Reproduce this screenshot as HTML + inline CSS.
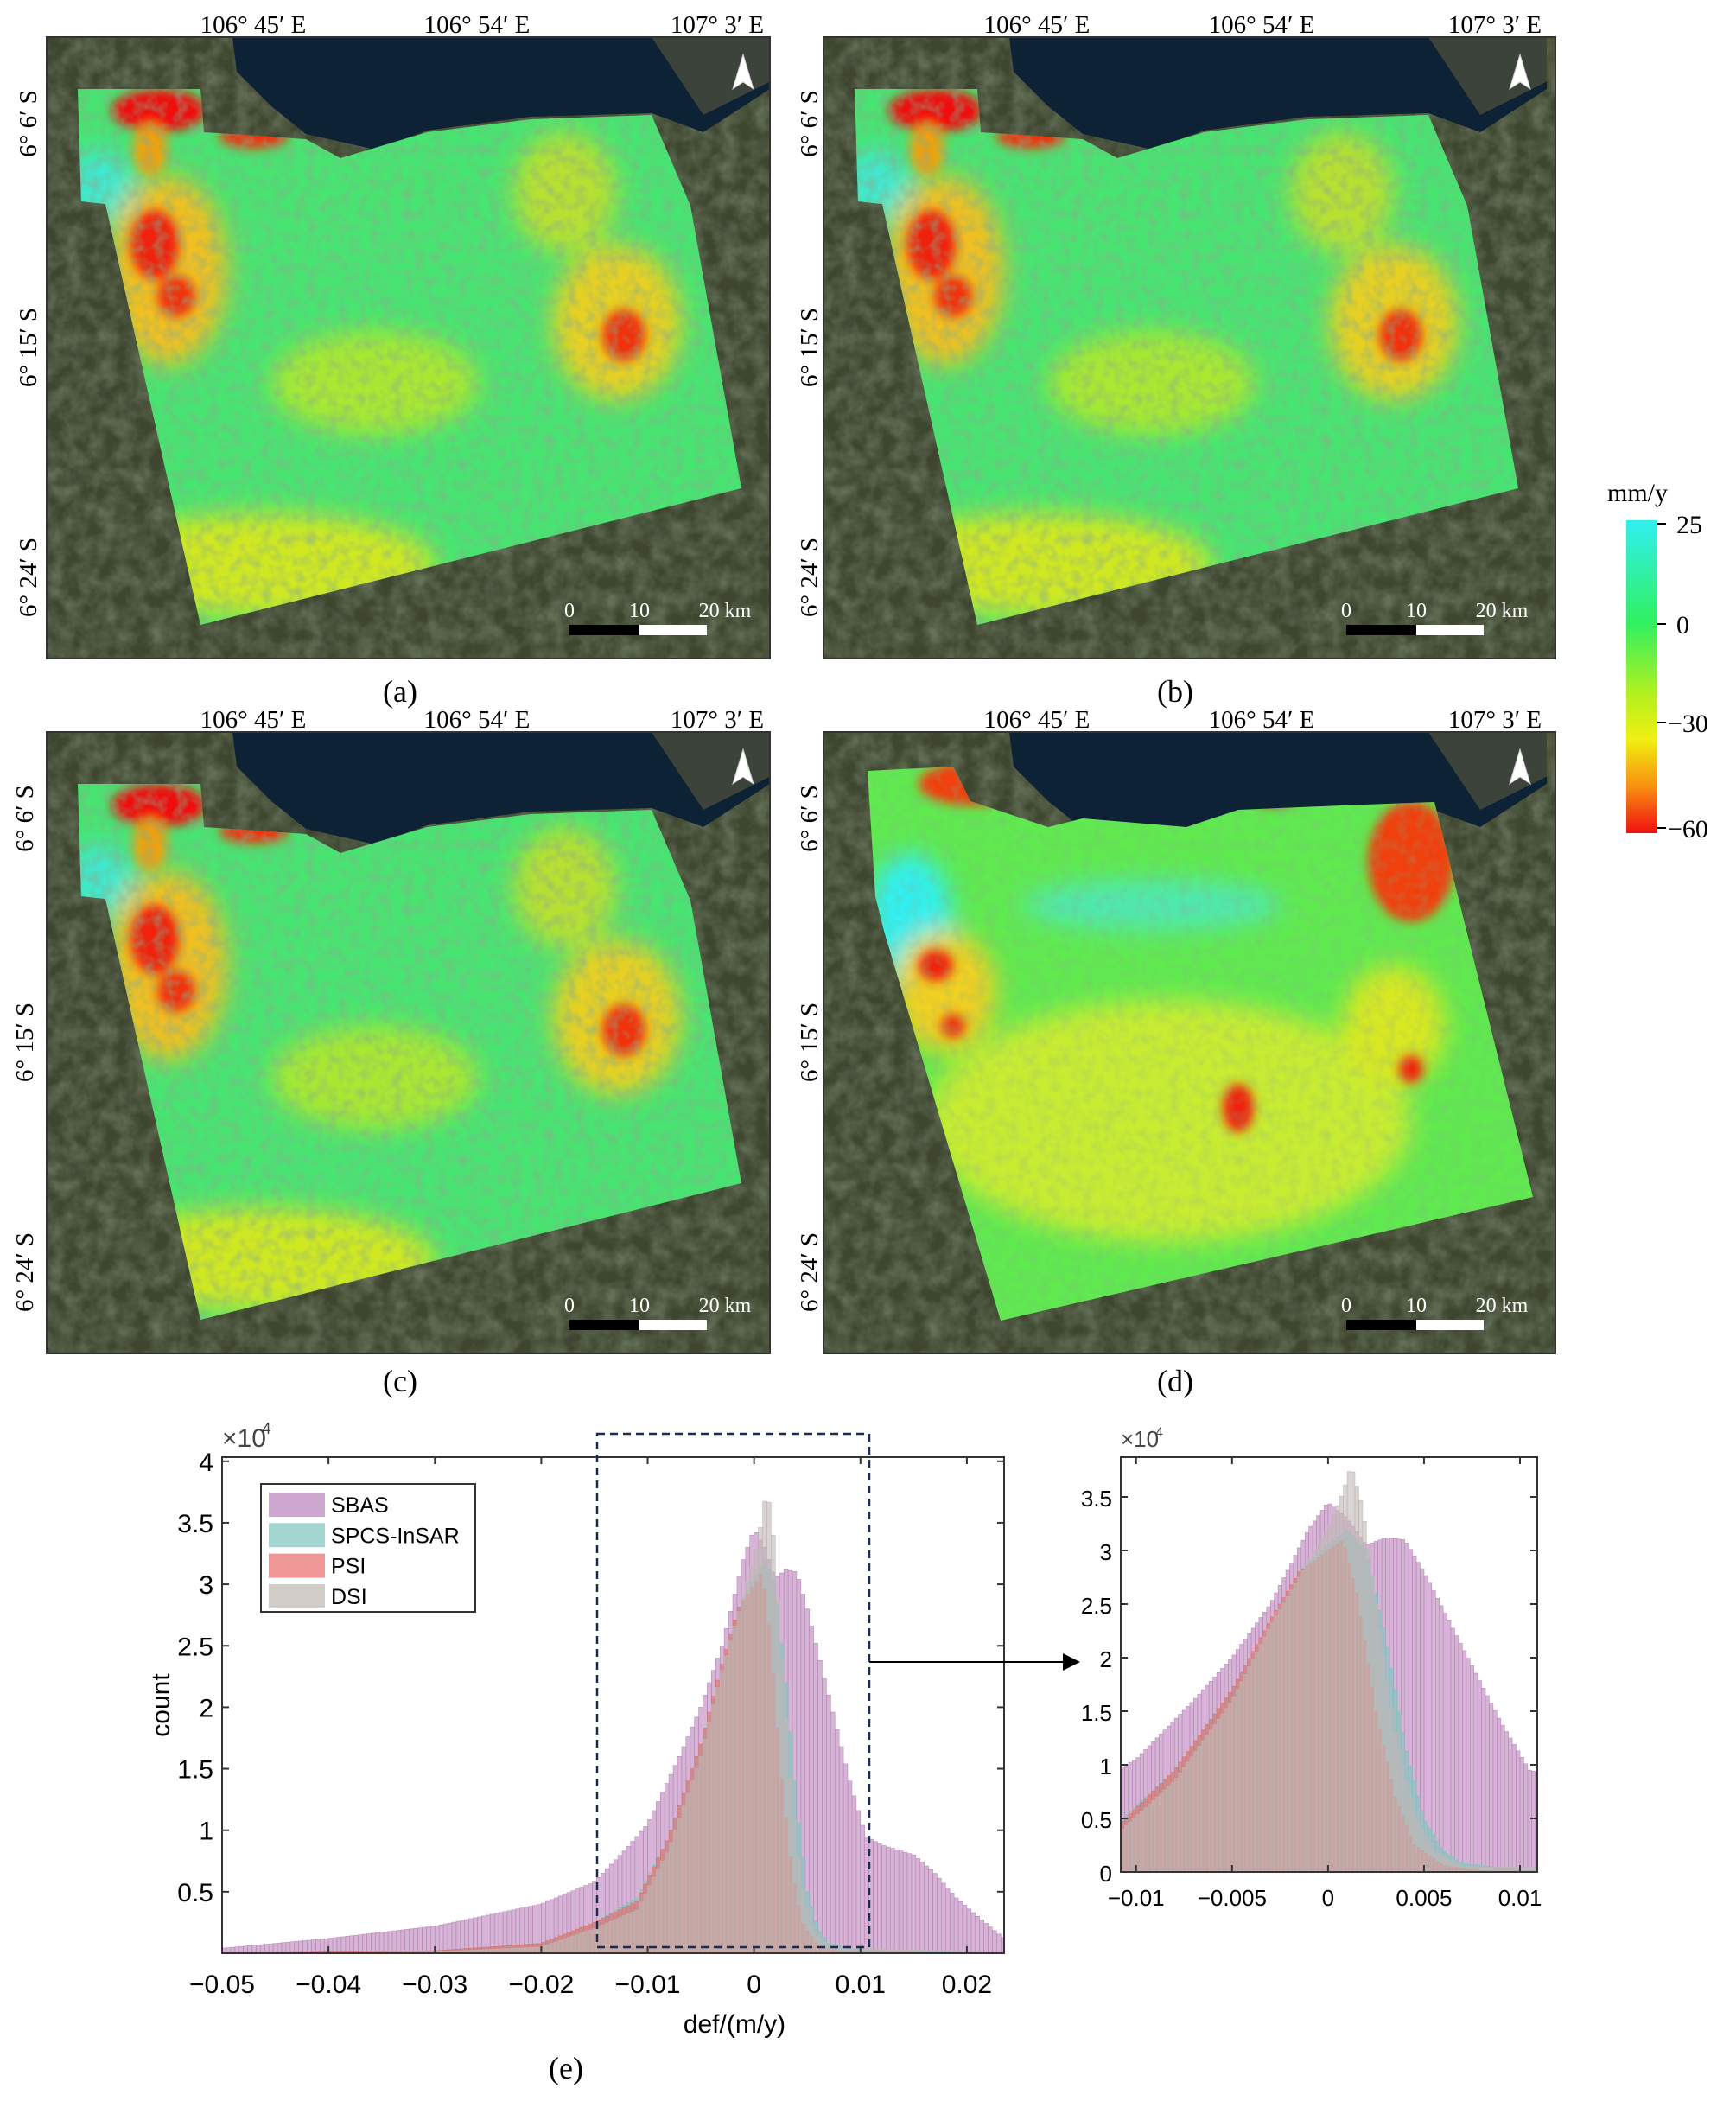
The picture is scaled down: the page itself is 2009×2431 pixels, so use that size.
<!DOCTYPE html>
<html><head><meta charset="utf-8">
<style>
html,body{margin:0;padding:0;background:#fff;}
svg{display:block;}
text{font-family:"Liberation Serif",serif;}
.s{font-family:"Liberation Sans",sans-serif;}
</style></head><body>
<svg id="root" width="2009" height="2431" viewBox="0 0 2009 2431" xmlns="http://www.w3.org/2000/svg">
<defs>
<filter id="tex" x="0" y="0" width="100%" height="100%">
<feTurbulence type="fractalNoise" baseFrequency="0.05" numOctaves="3" seed="4"/>
<feColorMatrix values="0 0 0 0 0.22  0 0 0 0 0.28  0 0 0 0 0.18  0 0 0 1.0 -0.3"/>
</filter>
<filter id="tex2" x="0" y="0" width="100%" height="100%">
<feTurbulence type="fractalNoise" baseFrequency="0.08" numOctaves="2" seed="9"/>
<feColorMatrix values="0 0 0 0 0.25  0 0 0 0 0.42  0 0 0 0 0.25  0 0 0 1.4 -0.55"/>
</filter>
<filter id="blur"><feGaussianBlur stdDeviation="14"/></filter>
<filter id="blur2"><feGaussianBlur stdDeviation="6"/></filter>
<linearGradient id="cb" x1="0" y1="0" x2="0" y2="1">
<stop offset="0" stop-color="#30f0f0"/><stop offset="0.33" stop-color="#30f060"/>
<stop offset="0.55" stop-color="#b0f020"/><stop offset="0.7" stop-color="#f0f010"/>
<stop offset="0.85" stop-color="#f89010"/><stop offset="1" stop-color="#f01010"/>
</linearGradient>
<clipPath id="mapclip"><rect x="0" y="0" width="837" height="719"/></clipPath>
<clipPath id="mapclip2"><rect x="0" y="0" width="847" height="719"/></clipPath>
<g id="mapbase">
<rect x="0" y="0" width="860" height="719" fill="#3e4630"/>
<rect x="0" y="0" width="860" height="719" filter="url(#tex)"/>
<path d="M215,0 L837,0 L837,60 L760,110 L700,88 L560,92 L440,108 L380,130 L300,112 L260,80 L220,40 Z" fill="#0e2236"/>
<path d="M700,0 L860,0 L860,40 L760,90 Z" fill="#5a5a40" opacity="0.6"/>
<path d="M806,20 L818,60 L806,52 L794,60 Z" fill="#fff" stroke="#ccc"/>
<rect x="605" y="680" width="81" height="12" fill="#000"/>
<rect x="686" y="680" width="78" height="12" fill="#fff"/>
<text x="605" y="671" font-size="24" fill="#fff" text-anchor="middle">0</text>
<text x="686" y="671" font-size="24" fill="#fff" text-anchor="middle">10</text>
<text x="785" y="671" font-size="24" fill="#fff" text-anchor="middle">20  km</text>
</g>
<g id="psmap">
<path id="poly1" d="M36,60 L178,60 L182,110 L300,118 L340,140 L440,110 L560,95 L700,90 L745,195 L804,522 L178,680 L68,193 L40,190 Z" fill="#48e472"/>
<g clip-path="url(#pclip)">
<g filter="url(#blur)">
<ellipse cx="140" cy="270" rx="70" ry="110" fill="#f0c020"/>
<ellipse cx="660" cy="330" rx="75" ry="90" fill="#e8d020"/>
<ellipse cx="250" cy="610" rx="200" ry="60" fill="#d0e820"/>
<ellipse cx="380" cy="400" rx="120" ry="60" fill="#a8e830"/>
<ellipse cx="60" cy="170" rx="40" ry="40" fill="#40e8d0"/>
<ellipse cx="600" cy="180" rx="60" ry="70" fill="#b8e030"/>
</g>
<g filter="url(#blur2)">
<ellipse cx="125" cy="240" rx="28" ry="40" fill="#f02010"/>
<ellipse cx="150" cy="300" rx="22" ry="24" fill="#f03010"/>
<ellipse cx="668" cy="345" rx="25" ry="30" fill="#f03010"/>
<ellipse cx="130" cy="85" rx="55" ry="25" fill="#f01010"/>
<ellipse cx="240" cy="115" rx="40" ry="14" fill="#f03010"/>
<ellipse cx="120" cy="130" rx="20" ry="30" fill="#f0a010"/>
</g>
<rect x="0" y="0" width="837" height="719" filter="url(#tex2)" opacity="0.8"/>
</g>
</g>
<clipPath id="pclip"><use href="#poly1"/></clipPath>
<clipPath id="dclip"><path id="poly4" d="M51,45 L150,40 L170,80 L260,110 L300,100 L420,110 L480,90 L600,85 L707,81 L821,538 L205,681 L70,230 L60,190 Z"/></clipPath>
</defs>

<g transform="translate(54,43)" clip-path="url(#mapclip)"><use href="#mapbase"/><use href="#psmap"/></g>
<g transform="translate(953,43)" clip-path="url(#mapclip2)"><use href="#mapbase"/><use href="#psmap"/></g>
<g transform="translate(54,847)" clip-path="url(#mapclip)"><use href="#mapbase"/><use href="#psmap"/></g>
<g transform="translate(953,847)" clip-path="url(#mapclip2)"><use href="#mapbase"/>
<g clip-path="url(#dclip)">
<rect x="0" y="0" width="837" height="719" fill="#60ea50"/>
<g filter="url(#blur)">
<ellipse cx="400" cy="450" rx="280" ry="140" fill="#c8ec30"/>
<ellipse cx="100" cy="220" rx="50" ry="80" fill="#30f0f0"/>
<ellipse cx="380" cy="200" rx="150" ry="30" fill="#50e8b0"/>
<ellipse cx="140" cy="300" rx="60" ry="70" fill="#f0d020"/>
<ellipse cx="660" cy="340" rx="60" ry="70" fill="#d8e820"/>
</g>
<g filter="url(#blur2)">
<ellipse cx="130" cy="270" rx="20" ry="18" fill="#f02010"/>
<ellipse cx="150" cy="340" rx="14" ry="14" fill="#f03010"/>
<ellipse cx="480" cy="435" rx="18" ry="28" fill="#f02010"/>
<ellipse cx="680" cy="390" rx="14" ry="16" fill="#f02010"/>
<ellipse cx="170" cy="60" rx="60" ry="25" fill="#f04010"/>
<ellipse cx="680" cy="150" rx="50" ry="70" fill="#f04010"/>
<ellipse cx="520" cy="75" rx="25" ry="10" fill="#f01010"/>
</g>
<rect x="0" y="0" width="837" height="719" filter="url(#tex2)" opacity="0.4"/>
</g></g>

<g fill="none" stroke="#333" stroke-width="2">
<rect x="54" y="43" width="837" height="719"/><rect x="953" y="43" width="847" height="719"/>
<rect x="54" y="847" width="837" height="719"/><rect x="953" y="847" width="847" height="719"/>
</g>

<g font-size="29" fill="#000" text-anchor="middle">
<text x="293" y="38">106° 45′ E</text><text x="552" y="38">106° 54′ E</text><text x="830" y="38">107° 3′ E</text>
<text x="1200" y="38">106° 45′ E</text><text x="1460" y="38">106° 54′ E</text><text x="1730" y="38">107° 3′ E</text>
<text x="293" y="842">106° 45′ E</text><text x="552" y="842">106° 54′ E</text><text x="830" y="842">107° 3′ E</text>
<text x="1200" y="842">106° 45′ E</text><text x="1460" y="842">106° 54′ E</text><text x="1730" y="842">107° 3′ E</text>
</g>
<g font-size="29" fill="#000" text-anchor="middle">
<text transform="translate(42,143) rotate(-90)">6° 6′ S</text>
<text transform="translate(42,402) rotate(-90)">6° 15′ S</text>
<text transform="translate(42,668) rotate(-90)">6° 24′ S</text>
<text transform="translate(946,143) rotate(-90)">6° 6′ S</text>
<text transform="translate(946,402) rotate(-90)">6° 15′ S</text>
<text transform="translate(946,668) rotate(-90)">6° 24′ S</text>
<text transform="translate(38,947) rotate(-90)">6° 6′ S</text>
<text transform="translate(38,1206) rotate(-90)">6° 15′ S</text>
<text transform="translate(38,1472) rotate(-90)">6° 24′ S</text>
<text transform="translate(946,947) rotate(-90)">6° 6′ S</text>
<text transform="translate(946,1206) rotate(-90)">6° 15′ S</text>
<text transform="translate(946,1472) rotate(-90)">6° 24′ S</text>
</g>
<g font-size="36" text-anchor="middle">
<text x="463" y="812">(a)</text><text x="1360" y="812">(b)</text>
<text x="463" y="1610">(c)</text><text x="1360" y="1610">(d)</text>
<text x="655" y="2405">(e)</text>
</g>

<rect x="1882" y="602" width="36" height="362" fill="url(#cb)"/>
<text x="1895" y="580" font-size="30" text-anchor="middle">mm/y</text>
<g font-size="30">
<text x="1940" y="617">25</text><text x="1940" y="733">0</text>
<text x="1930" y="847">−30</text><text x="1930" y="969">−60</text>
</g>
<g stroke="#000" stroke-width="2"><line x1="1918" y1="606" x2="1928" y2="606"/><line x1="1918" y1="722" x2="1928" y2="722"/><line x1="1918" y1="836" x2="1928" y2="836"/><line x1="1918" y1="958" x2="1928" y2="958"/></g>

<g id="hists"></g>
</svg>
<script>
(function(){
var NS="http://www.w3.org/2000/svg", root=document.getElementById("hists");
function el(t,a,p){var e=document.createElementNS(NS,t);for(var k in a)e.setAttribute(k,a[k]);(p||root).appendChild(e);return e;}
function interp(pts,x){if(x<=pts[0][0])return pts[0][1];for(var i=1;i<pts.length;i++){if(x<=pts[i][0]){var a=pts[i-1],b=pts[i];return a[1]+(b[1]-a[1])*(x-a[0])/(b[0]-a[0]);}}return pts[pts.length-1][1];}
var S={
sbas:[[-0.05,0.04],[-0.04,0.12],[-0.03,0.22],[-0.02,0.4],[-0.015,0.58],[-0.012,0.85],[-0.01,1.05],[-0.007,1.6],[-0.005,2.0],[-0.003,2.5],[-0.001,3.2],[0,3.45],[0.001,3.3],[0.002,3.05],[0.003,3.12],[0.004,3.1],[0.005,2.8],[0.007,2.1],[0.009,1.4],[0.0105,0.95],[0.012,0.88],[0.015,0.8],[0.017,0.65],[0.019,0.45],[0.021,0.3],[0.0235,0.12]],
spcs:[[-0.05,0],[-0.03,0.02],[-0.02,0.08],[-0.015,0.25],[-0.011,0.45],[-0.008,0.95],[-0.005,1.7],[-0.003,2.3],[-0.0015,2.8],[0,3.05],[0.001,3.2],[0.002,3.0],[0.003,2.2],[0.004,1.2],[0.005,0.5],[0.006,0.2],[0.007,0.08],[0.009,0.04],[0.012,0.02],[0.0235,0]],
psi:[[-0.05,0],[-0.03,0.02],[-0.02,0.08],[-0.015,0.25],[-0.011,0.42],[-0.008,0.95],[-0.005,1.7],[-0.003,2.35],[-0.0015,2.8],[0,3.0],[0.0008,3.1],[0.0015,2.6],[0.0025,1.5],[0.0035,0.7],[0.0045,0.25],[0.006,0.06],[0.008,0.01],[0.0235,0]],
dsi:[[-0.05,0],[-0.03,0.01],[-0.02,0.05],[-0.015,0.2],[-0.011,0.35],[-0.008,0.85],[-0.005,1.6],[-0.003,2.3],[-0.001,2.9],[0,3.2],[0.0008,3.55],[0.0012,3.8],[0.0018,3.4],[0.0025,2.5],[0.0035,1.3],[0.0045,0.55],[0.0055,0.2],[0.007,0.05],[0.0235,0]]
};
var cols={sbas:["#b982b9",0.6],spcs:["#7cc4bc",0.6],psi:["#e86a6a",0.6],dsi:["#c0b8b4",0.6]};
var order=["sbas","spcs","psi","dsi"];
function hist(cfg){
 var g=el("g",{});
 el("rect",{x:cfg.x0,y:cfg.y1,width:cfg.x1-cfg.x0,height:cfg.y0-cfg.y1,fill:"#fff"},g);
 var clip=el("clipPath",{id:cfg.id},g);el("rect",{x:cfg.x0,y:cfg.y1,width:cfg.x1-cfg.x0,height:cfg.y0-cfg.y1},clip);
 var bg=el("g",{"clip-path":"url(#"+cfg.id+")"},g);
 function X(v){return cfg.x0+(v-cfg.xmin)*(cfg.x1-cfg.x0)/(cfg.xmax-cfg.xmin);}
 function Y(v){return cfg.y0-v*cfg.py;}
 order.forEach(function(k){
  var c=cols[k];var sg=el("g",{fill:c[0],"fill-opacity":c[1],stroke:c[0],"stroke-opacity":0.9,"stroke-width":0.6},bg);
  for(var b=cfg.xmin;b<cfg.xmax;b+=cfg.bw){var v=interp(S[k],b+cfg.bw/2);if(v<=0.002)continue;
   var xa=X(b),xb=X(b+cfg.bw);el("rect",{x:xa,y:Y(v),width:xb-xa,height:cfg.y0-Y(v)},sg);}
 });
 el("rect",{x:cfg.x0,y:cfg.y1,width:cfg.x1-cfg.x0,height:cfg.y0-cfg.y1,fill:"none",stroke:"#333","stroke-width":2},g);
 cfg.yt.forEach(function(t){var y=Y(t[0]);
  el("line",{x1:cfg.x0,y1:y,x2:cfg.x0+8,y2:y,stroke:"#333","stroke-width":2},g);
  el("line",{x1:cfg.x1,y1:y,x2:cfg.x1-8,y2:y,stroke:"#333","stroke-width":2},g);
  var t2=el("text",{x:cfg.x0-10,y:y+11,"font-size":cfg.fs,"text-anchor":"end","class":"s"},g);t2.textContent=t[1];});
 cfg.xt.forEach(function(t){var x=X(t[0]);
  el("line",{x1:x,y1:cfg.y0,x2:x,y2:cfg.y0-8,stroke:"#333","stroke-width":2},g);
  el("line",{x1:x,y1:cfg.y1,x2:x,y2:cfg.y1+8,stroke:"#333","stroke-width":2},g);
  var t2=el("text",{x:x,y:cfg.xly,"font-size":cfg.fs,"text-anchor":"middle","class":"s"},g);t2.textContent=t[1];});
 var m=el("text",{x:cfg.x0,y:cfg.y1-12,"font-size":cfg.fs,"class":"s",fill:"#444"},g);m.textContent="×10";
 var s=el("text",{x:cfg.x0+cfg.fs*1.55,y:cfg.y1-cfg.fs*0.9,"font-size":cfg.fs*0.6,"class":"s",fill:"#444"},g);s.textContent="4";
}
hist({id:"c1",x0:257,x1:1162,y0:2260,y1:1686,xmin:-0.05,xmax:0.0235,py:142.3,bw:0.0004,fs:30,xly:2306,
 yt:[[0.5,"0.5"],[1,"1"],[1.5,"1.5"],[2,"2"],[2.5,"2.5"],[3,"3"],[3.5,"3.5"],[4,"4"]],
 xt:[[-0.05,"−0.05"],[-0.04,"−0.04"],[-0.03,"−0.03"],[-0.02,"−0.02"],[-0.01,"−0.01"],[0,"0"],[0.01,"0.01"],[0.02,"0.02"]]});
hist({id:"c2",x0:1297,x1:1779,y0:2166,y1:1686,xmin:-0.0108,xmax:0.0109,py:124,bw:0.0002,fs:26,xly:2205,
 yt:[[0,"0"],[0.5,"0.5"],[1,"1"],[1.5,"1.5"],[2,"2"],[2.5,"2.5"],[3,"3"],[3.5,"3.5"]],
 xt:[[-0.01,"−0.01"],[-0.005,"−0.005"],[0,"0"],[0.005,"0.005"],[0.01,"0.01"]]});
var lg=el("g",{});
el("rect",{x:302,y:1717,width:248,height:148,fill:"#fff",stroke:"#333","stroke-width":2},lg);
var names=[["sbas","SBAS"],["spcs","SPCS-InSAR"],["psi","PSI"],["dsi","DSI"]];
names.forEach(function(n,i){var y=1741+i*35.3;
 el("rect",{x:311,y:y-14,width:65,height:28,fill:cols[n[0]][0],"fill-opacity":0.7},lg);
 var t=el("text",{x:383,y:y+9,"font-size":25,"class":"s"},lg);t.textContent=n[1];});
var t=el("text",{x:850,y:2352,"font-size":30,"text-anchor":"middle","class":"s"});t.textContent="def/(m/y)";
t=el("text",{transform:"translate(196,1973) rotate(-90)","font-size":30,"text-anchor":"middle","class":"s"});t.textContent="count";
el("rect",{x:691,y:1659,width:315,height:594,fill:"none",stroke:"#1a2a50","stroke-width":2.5,"stroke-dasharray":"9,6"});
el("line",{x1:1006,y1:1923,x2:1232,y2:1923,stroke:"#000","stroke-width":2});
el("path",{d:"M1250,1923 L1230,1913 L1230,1933 Z",fill:"#000"});
})();
</script>
</body></html>
